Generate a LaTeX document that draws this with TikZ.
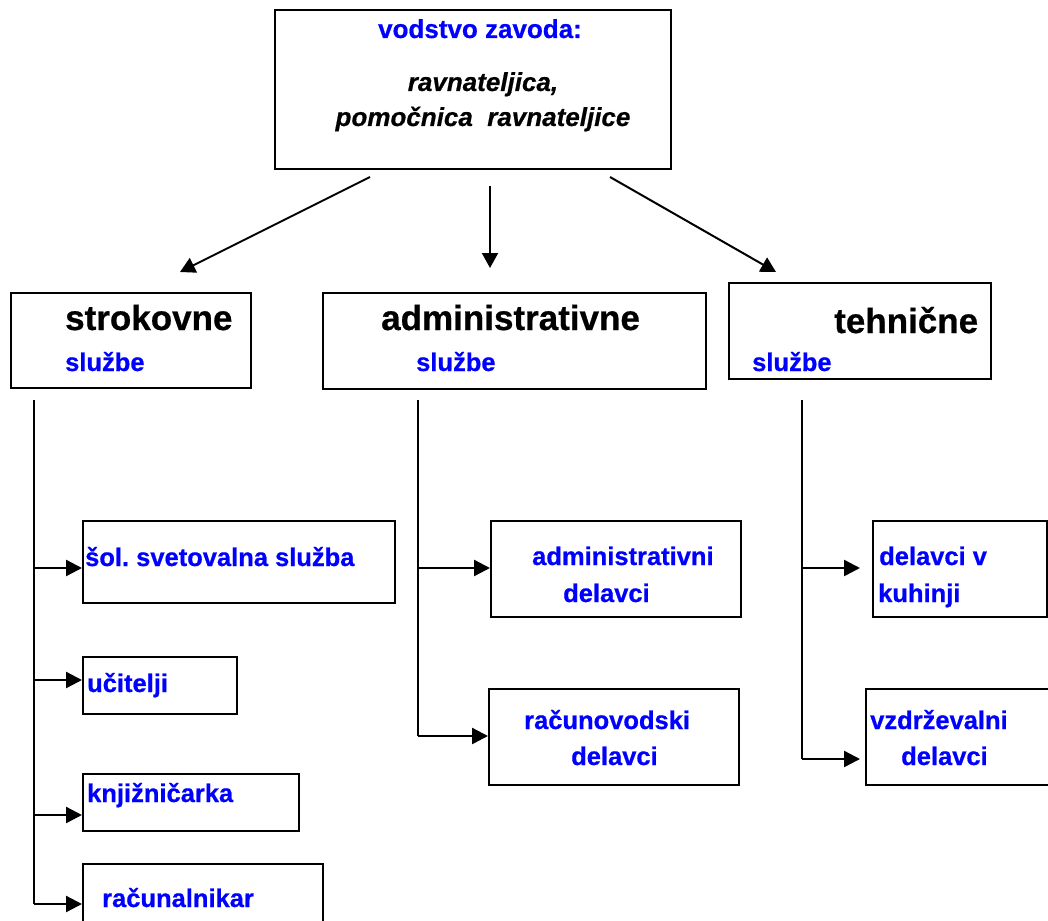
\documentclass[tikz,border=0pt]{standalone}
\usepackage{fontspec}
\setmainfont{Liberation Sans}[BoldFeatures={FakeBold=0.6},BoldItalicFeatures={FakeBold=0.6}]
\usetikzlibrary{arrows.meta}
\definecolor{tblue}{RGB}{0,0,255}
\frenchspacing
\begin{document}
\begin{tikzpicture}[x=1pt,y=-1pt,
  box/.style={draw, line width=2.2pt, inner sep=0pt, anchor=north west},
  big/.style={font=\bfseries\fontsize{35}{40}\selectfont, anchor=base west, inner sep=0pt},
  lbl/.style={font=\bfseries\fontsize{25.5}{30}\selectfont, text=tblue, anchor=base west, inner sep=0pt},
  ttl/.style={font=\bfseries\itshape\fontsize{26}{30}\selectfont, anchor=base, inner sep=0pt},
  arr/.style={line width=2.4pt, -{Triangle[length=16pt,width=16pt]}},
  darr/.style={line width=2pt, -{Triangle[length=15pt,width=16pt]}},
  ln/.style={line width=2.4pt}]
\useasboundingbox (0,0) rectangle (1048,920);
\fill[white] (0,0) rectangle (1048,920);

% boxes
\node[box, minimum width=396pt, minimum height=159pt] (top) at (274,9) {};
\node[box, minimum width=240pt, minimum height=95pt] (strok) at (10,292) {};
\node[box, minimum width=383pt, minimum height=96pt] (admin) at (322,292) {};
\node[box, minimum width=262pt, minimum height=96pt] (tehn) at (728,282) {};
\node[box, minimum width=312pt, minimum height=82pt] (sol) at (82,520) {};
\node[box, minimum width=154pt, minimum height=57pt] (ucit) at (82,656) {};
\node[box, minimum width=216pt, minimum height=57pt] (knjiz) at (82,773) {};
\node[box, minimum width=240pt, minimum height=77pt] (racun) at (82,863) {};
\node[box, minimum width=250pt, minimum height=96pt] (admd) at (490,520) {};
\node[box, minimum width=250pt, minimum height=96pt] (racd) at (488,688) {};
\node[box, minimum width=174pt, minimum height=96pt] (kuh) at (872,520) {};
\node[box, minimum width=205pt, minimum height=96pt] (vzd) at (865,688) {};

% texts
\node[font=\bfseries\fontsize{26}{30}\selectfont, text=tblue, anchor=base, inner sep=0pt] (ttop) at (480,38) {vodstvo zavoda:};
\node[ttl] (t1) at (483,91) {ravnateljica,};
\node[ttl] (t2) at (483,126) {pomočnica~~ravnateljice};

\node[big] (tstrok) at (65,330) {strokovne};
\node[lbl] (sstrok) at (65,371) {službe};
\node[big] (tadmin) at (381,330) {administrativne};
\node[lbl] (sadmin) at (416,371) {službe};
\node[big] (ttehn) at (834,333) {tehnične};
\node[lbl] (stehn) at (752,371) {službe};

\node[lbl] (lsol) at (85,566) {šol. svetovalna služba};
\node[lbl] (lucit) at (87,692) {učitelji};
\node[lbl] (lknjiz) at (87,802) {knjižničarka};
\node[lbl] (lracun) at (102,907) {računalnikar};
\node[lbl] (ladm1) at (532,565) {administrativni};
\node[lbl] (ladm2) at (563,602) {delavci};
\node[lbl] (lrac1) at (524,729) {računovodski};
\node[lbl] (lrac2) at (571,765) {delavci};
\node[lbl] (lkuh1) at (879,565) {delavci v};
\node[lbl] (lkuh2) at (878,602) {kuhinji};
\node[lbl] (lvzd1) at (870,729) {vzdrževalni};
\node[lbl] (lvzd2) at (901,765) {delavci};

% top connectors
\coordinate (a1) at (370,177);
\coordinate (b1) at (180,272);
\coordinate (a2) at (490,186);
\coordinate (b2) at (490,268);
\coordinate (a3) at (610,177);
\coordinate (b3) at (776,272);
\draw[darr] (a1) -- (b1);
\draw[darr] (a2) -- (b2);
\draw[darr] (a3) -- (b3);

% strokovne branch
\coordinate (sv0) at (34,400);
\coordinate (sv1) at (34,568);
\coordinate (sv2) at (34,680);
\coordinate (sv3) at (34,815);
\coordinate (sv4) at (34,904);
\draw[ln] (sv0) -- (sv4);
\draw[arr] (sv1) -- (sv1 -| sol.west);
\draw[arr] (sv2) -- (sv2 -| ucit.west);
\draw[arr] (sv3) -- (sv3 -| knjiz.west);
\draw[arr] (sv4) -- (sv4 -| racun.west);

% administrativne branch
\coordinate (av0) at (418,400);
\coordinate (av1) at (418,568);
\coordinate (av2) at (418,736);
\draw[ln] (av0) -- (av2);
\draw[arr] (av1) -- (av1 -| admd.west);
\draw[arr] (av2) -- (av2 -| racd.west);

% tehnicne branch
\coordinate (tv0) at (802,400);
\coordinate (tv1) at (802,568);
\coordinate (tv2) at (802,759);
\draw[ln] (tv0) -- (tv2);
\draw[arr, shorten >=12pt] (tv1) -- (tv1 -| kuh.west);
\draw[arr, shorten >=5pt] (tv2) -- (tv2 -| vzd.west);
\end{tikzpicture}
\end{document}
